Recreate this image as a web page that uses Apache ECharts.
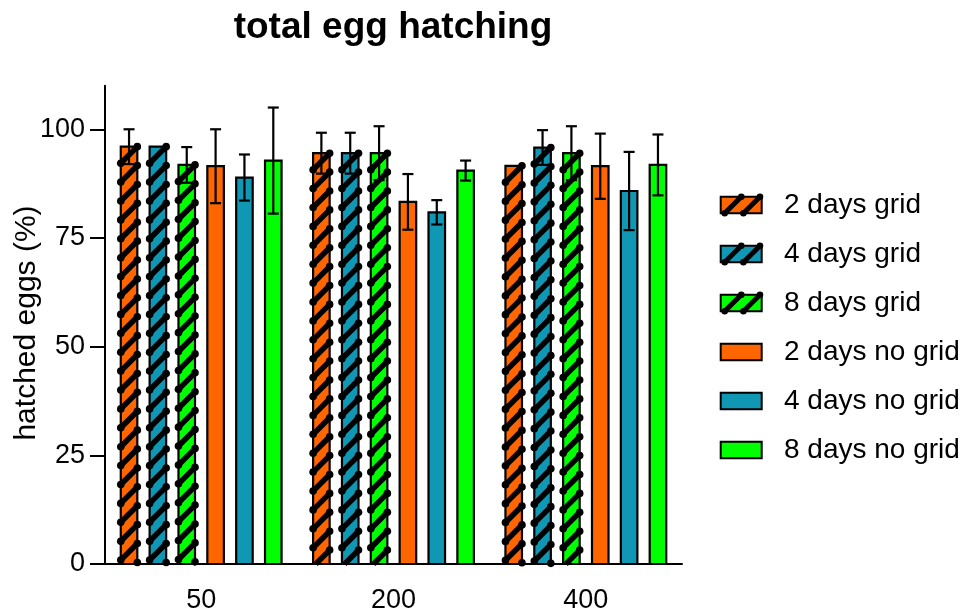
<!DOCTYPE html>
<html><head><meta charset="utf-8">
<script src="https://cdn.jsdelivr.net/npm/echarts@6/dist/echarts.min.js"></script>
<style>html,body{margin:0;padding:0;background:#fff}#c{width:967px;height:615px}</style>
</head><body><div id="c"></div>
<script>
// ---- data ----
const categories = ['50', '200', '400'];
const seriesNames = ['2 days grid', '4 days grid', '8 days grid', '2 days no grid', '4 days no grid', '8 days no grid'];
const seriesColors = ['#FF6600', '#1097B4', '#00FF00', '#FF6600', '#1097B4', '#00FF00'];
const hatched = [true, true, true, false, false, false];
const yAxisTitle = 'hatched eggs (%)';
const chartTitle = 'total egg hatching';

const mean2dGrid = [96, 94.5, 91.6];
const mean4dGrid = [96, 94.5, 95.8];
const mean8dGrid = [91.8, 94.5, 94.5];
const mean2dNoGrid = [91.5, 83.3, 91.5];
const mean4dNoGrid = [88.9, 80.9, 85.8];
const mean8dNoGrid = [92.8, 90.5, 91.8];

const err2dGrid = [4, 4.7, 0];
const err4dGrid = [0, 4.7, 4];
const err8dGrid = [4.1, 6.2, 6.2];
const err2dNoGrid = [8.5, 6.4, 7.5];
const err4dNoGrid = [5.3, 2.8, 9];
const err8dNoGrid = [12.2, 2.3, 7];

const yTicks = [0, 25, 50, 75, 100];

const means = [mean2dGrid, mean4dGrid, mean8dGrid, mean2dNoGrid, mean4dNoGrid, mean8dNoGrid];
const errs = [err2dGrid, err4dGrid, err8dGrid, err2dNoGrid, err4dNoGrid, err8dNoGrid];

const FONT = '"Liberation Sans", Arial, Helvetica, sans-serif';
const chart = echarts.init(document.getElementById('c'), null, { renderer: 'canvas' });

function makeRender(si) {
  return function (params, api) {
    const idx = api.value(0), val = api.value(1), err = api.value(2);
    const band = api.size([1, 0])[0];
    const c = api.coord([idx, val]);
    const base = api.coord([idx, 0])[1];
    const cx = c[0] + (si - 2.5) * band * 0.15;
    const w = band * 0.086;
    const x0 = cx - w / 2, x1 = cx + w / 2, top = c[1];
    const children = [{
      type: 'rect', shape: { x: x0, y: top, width: w, height: base - top },
      style: { fill: seriesColors[si], stroke: '#000', lineWidth: 2.2 }
    }];
    if (hatched[si]) {
      const s = 18.9;
      for (let k = 0; top + k * s < base; k++) {
        const yr = top + k * s;
        let yl = yr + w, xl = x0;
        const full = yl <= base;
        if (!full) { xl = x1 - (base - yr); yl = base; }
        children.push({ type: 'line', shape: { x1: x1, y1: yr, x2: xl, y2: yl },
          style: { stroke: '#000', lineWidth: 5.5, lineCap: 'butt' } });
        children.push({ type: 'circle', shape: { cx: x1, cy: yr, r: 3.8 }, style: { fill: '#000' } });
        if (full) children.push({ type: 'circle', shape: { cx: x0, cy: yr + w, r: 3.8 }, style: { fill: '#000' } });
      }
    }
    if (err > 0) {
      const yu = api.coord([idx, val + err])[1], yd = api.coord([idx, val - err])[1];
      const cap = 5.5;
      const st = { stroke: '#000', lineWidth: 2.2 };
      children.push({ type: 'line', shape: { x1: cx, y1: yu, x2: cx, y2: yd }, style: st });
      children.push({ type: 'line', shape: { x1: cx - cap, y1: yu, x2: cx + cap, y2: yu }, style: st });
      children.push({ type: 'line', shape: { x1: cx - cap, y1: yd, x2: cx + cap, y2: yd }, style: st });
    }
    return { type: 'group', children: children };
  };
}

const series = seriesNames.map(function (name, si) {
  return {
    type: 'custom', name: name,
    renderItem: makeRender(si),
    encode: { x: 0, y: 1 },
    data: categories.map(function (c, ci) { return [ci, means[si][ci], errs[si][ci]]; }),
    z: 1
  };
});

// legend + y axis title drawn as graphic
const graphics = [{
  type: 'text', x: 27, y: 323, rotation: Math.PI / 2,
  style: { text: yAxisTitle, fill: '#000', font: '30px ' + FONT, align: 'center', verticalAlign: 'middle' }
}];
seriesNames.forEach(function (name, i) {
  const yc = 205 + i * 49;
  const lx = 720.7, lw = 41, lh = 16.6;
  const ly = yc - lh / 2;
  graphics.push({ type: 'rect', shape: { x: lx, y: ly, width: lw, height: lh },
    style: { fill: seriesColors[i], stroke: '#000', lineWidth: 2 } });
  if (hatched[i]) {
    [4, 22.7].forEach(function (off) {
      const bx = lx + off, tx = bx + lh;
      graphics.push({ type: 'line', shape: { x1: bx, y1: ly + lh, x2: tx, y2: ly },
        style: { stroke: '#000', lineWidth: 5, lineCap: 'butt' } });
      graphics.push({ type: 'circle', shape: { cx: bx, cy: ly + lh, r: 3.3 }, style: { fill: '#000' } });
      graphics.push({ type: 'circle', shape: { cx: tx, cy: ly, r: 3.3 }, style: { fill: '#000' } });
    });
  }
  graphics.push({ type: 'text', x: 784, y: yc,
    style: { text: name, fill: '#000', font: '28px ' + FONT, verticalAlign: 'middle' } });
});

chart.setOption({
  animation: false,
  backgroundColor: '#fff',
  title: {
    text: chartTitle, left: 388, top: 4, textAlign: 'center',
    textStyle: { fontFamily: FONT, fontSize: 37, fontWeight: 'bold', color: '#000' }
  },
  grid: { left: 105, right: 285, top: 85.8, bottom: 51, containLabel: false, outerBoundsMode: 'none' },
  xAxis: {
    type: 'category', data: categories,
    axisLine: { lineStyle: { color: '#000', width: 2 } },
    axisTick: { alignWithLabel: true, length: 15, lineStyle: { color: '#000', width: 2 } },
    axisLabel: { color: '#000', fontFamily: FONT, fontSize: 27, margin: 23 },
    splitLine: { show: false }
  },
  yAxis: {
    type: 'value', min: 0, max: 110,
    axisLine: { show: true, lineStyle: { color: '#000', width: 2 } },
    axisTick: { show: true, length: 15, customValues: yTicks, lineStyle: { color: '#000', width: 2 } },
    axisLabel: { color: '#000', fontFamily: FONT, fontSize: 27, margin: 20, customValues: yTicks },
    splitLine: { show: false }
  },
  series: series,
  graphic: graphics
});
</script>
</body></html>
